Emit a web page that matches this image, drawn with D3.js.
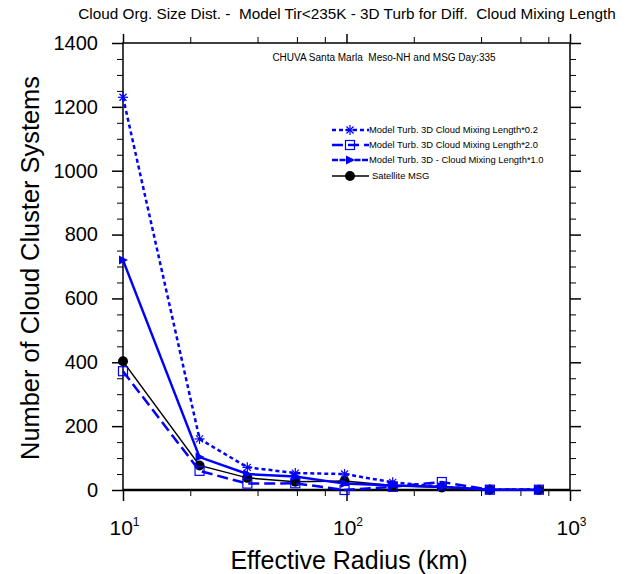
<!DOCTYPE html>
<html>
<head>
<meta charset="utf-8">
<script src="https://cdn.jsdelivr.net/npm/d3@7"></script>
<style>
  body { margin: 0; background: #fff; }
  text { font-family: "Liberation Sans", Arial, Helvetica, sans-serif; white-space: pre; }
</style>
</head>
<body>
<svg id="chart" width="631" height="574"></svg>
<script>
// effective radius bins (km)
var radius = [10, 22, 36, 59, 98, 161, 267, 438, 726];
// number of cloud cluster systems per run
var turb02 = [1230, 160, 71, 53, 50, 24, 10, 2, 1];
var turb20 = [372, 60, 20, 21, 0, 10, 25, 1, 1];
var turb10 = [720, 103, 50, 42, 20, 14, 10, 1, 1];
var satMSG = [403, 77, 38, 26, 28, 14, 8, 1, 0];

var seriesNames = ["Model Turb. 3D Cloud Mixing Length*0.2",
                   "Model Turb. 3D Cloud Mixing Length*2.0",
                   "Model Turb. 3D - Cloud Mixing Length*1.0",
                   "Satellite MSG"];

var yMajor = [0, 200, 400, 600, 800, 1000, 1200, 1400];
var yMinor = d3.range(0, 1401, 50);
var xMajor = [10, 100, 1000];
var xMinor = [20, 40, 60, 80, 200, 400, 600, 800];

var svg = d3.select("#chart");
svg.append("rect").attr("width", 631).attr("height", 574).attr("fill", "#fff");

var x = d3.scaleLog().domain([10, 1000]).range([123, 570]);
var y = d3.scaleLinear().domain([0, 1400]).range([490, 43]);

//title + subtitle
svg.append("text").attr("x", 347).attr("y", 19).attr("text-anchor", "middle")
  .style("font-size", "15.3px")
  .text("Cloud Org. Size Dist. -  Model Tir<235K - 3D Turb for Diff.  Cloud Mixing Length");
svg.append("text").attr("x", 384).attr("y", 61).attr("text-anchor", "middle")
  .style("font-size", "10px")
  .text("CHUVA Santa Marla  Meso-NH and MSG Day:335");

// axes: major + minor ticks, all pointing out
function styleAxis(g, w) {
  g.select(".domain").remove();
  g.selectAll(".tick line").attr("stroke", "#000").attr("stroke-width", w);
}
var gl = svg.append("g").attr("transform", "translate(123,0)")
  .call(d3.axisLeft(y).tickValues(yMajor).tickSize(11).tickPadding(14).tickFormat(d3.format("d")));
styleAxis(gl, 1.5);
gl.selectAll("text").style("font-size", "20px").attr("fill", "#000");
var gl2 = svg.append("g").attr("transform", "translate(123,0)")
  .call(d3.axisLeft(y).tickValues(yMinor.filter(function(d){ return d % 200; })).tickSize(6).tickFormat(""));
styleAxis(gl2, 1);

var gr = svg.append("g").attr("transform", "translate(570,0)")
  .call(d3.axisRight(y).tickValues(yMajor).tickSize(11).tickFormat(""));
styleAxis(gr, 1.5);
var gr2 = svg.append("g").attr("transform", "translate(570,0)")
  .call(d3.axisRight(y).tickValues(yMinor.filter(function(d){ return d % 200; })).tickSize(6).tickFormat(""));
styleAxis(gr2, 1);

var gb = svg.append("g").attr("transform", "translate(0,490)")
  .call(d3.axisBottom(x).tickValues(xMajor).tickSize(11).tickFormat(""));
styleAxis(gb, 1.5);
var gb2 = svg.append("g").attr("transform", "translate(0,490)")
  .call(d3.axisBottom(x).tickValues(xMinor).tickSize(6).tickFormat(""));
styleAxis(gb2, 1);
gb.selectAll(".tick").append("text").attr("fill", "#000").attr("y", 45).attr("x", 1)
  .attr("text-anchor", "middle")
  .each(function(d) {
    var t = d3.select(this);
    t.append("tspan").style("font-size", "21px").text("10");
    t.append("tspan").style("font-size", "12px").attr("dy", -9).text(Math.round(Math.log10(d)));
  });

var gt = svg.append("g").attr("transform", "translate(0,43)")
  .call(d3.axisTop(x).tickValues(xMajor).tickSize(9).tickFormat(""));
styleAxis(gt, 1.5);
var gt2 = svg.append("g").attr("transform", "translate(0,43)")
  .call(d3.axisTop(x).tickValues(xMinor).tickSize(6).tickFormat(""));
styleAxis(gt2, 1);

// frame
svg.append("rect").attr("x", 123).attr("y", 43).attr("width", 447).attr("height", 447)
  .attr("fill", "none").attr("stroke", "#000").attr("stroke-width", 1.5);
svg.append("line").attr("x1", 123).attr("x2", 570).attr("y1", 490).attr("y2", 490)
  .attr("stroke", "#000").attr("stroke-width", 2.5);

// axis titles
svg.append("text").attr("x", 349).attr("y", 569).attr("text-anchor", "middle")
  .style("font-size", "25px").text("Effective Radius (km)");
svg.append("text").attr("transform", "translate(39,268) rotate(-90)").attr("text-anchor", "middle")
  .style("font-size", "25.4px").text("Number of Cloud Cluster Systems");

// lines
var line = d3.line().x(function(d){ return x(d[0]); }).y(function(d){ return y(d[1]); });
function pts(vals) { return radius.map(function(r, i){ return [r, vals[i]]; }); }

var styles = [
  {vals: turb02, color: "#0000ff", width: 2.5, dash: "4,3", mark: "star"},
  {vals: turb20, color: "#0000ff", width: 2.5, dash: "11,5", mark: "square"},
  {vals: turb10, color: "#0000ff", width: 2.5, dash: null, mark: "tri"},
  {vals: satMSG, color: "#000", width: 1.5, dash: null, mark: "circle"}
];

function drawMark(g, type, cx, cy, color) {
  if (type === "star") {
    var s = 5;
    [[-s,0,s,0],[0,-s,0,s],[-s*0.7,-s*0.7,s*0.7,s*0.7],[-s*0.7,s*0.7,s*0.7,-s*0.7]].forEach(function(l){
      g.append("line").attr("x1", cx+l[0]).attr("y1", cy+l[1]).attr("x2", cx+l[2]).attr("y2", cy+l[3])
        .attr("stroke", color).attr("stroke-width", 1.2);
    });
  } else if (type === "square") {
    g.append("rect").attr("x", cx-4.5).attr("y", cy-4.5).attr("width", 9).attr("height", 9)
      .attr("fill", "none").attr("stroke", color).attr("stroke-width", 1.2);
  } else if (type === "tri") {
    g.append("path").attr("d", "M" + (cx-4) + "," + (cy-4.5) + "L" + (cx+5) + "," + cy + "L" + (cx-4) + "," + (cy+4.5) + "Z")
      .attr("fill", color);
  } else {
    g.append("circle").attr("cx", cx).attr("cy", cy).attr("r", 5).attr("fill", color);
  }
}

styles.slice().reverse().forEach(function(s) {
  svg.append("path").datum(pts(s.vals)).attr("d", line)
    .attr("fill", "none").attr("stroke", s.color).attr("stroke-width", s.width)
    .attr("stroke-dasharray", s.dash);
  var g = svg.append("g");
  pts(s.vals).forEach(function(p){ drawMark(g, s.mark, x(p[0]), y(p[1]), s.color); });
});

// legend
var legY = [130, 145, 160, 176];
styles.forEach(function(s, i) {
  var g = svg.append("g");
  g.append("line").attr("x1", 332).attr("x2", 369).attr("y1", legY[i]).attr("y2", legY[i])
    .attr("stroke", s.color).attr("stroke-width", s.width)
    .attr("stroke-dasharray", i === 2 ? "6,1.5" : s.dash);
  drawMark(g, s.mark, 350, legY[i], s.color);
  g.append("text").attr("x", i === 3 ? 372 : 369).attr("y", legY[i] + 3)
    .style("font-size", "9.4px").text(seriesNames[i]);
});
</script>
</body>
</html>
